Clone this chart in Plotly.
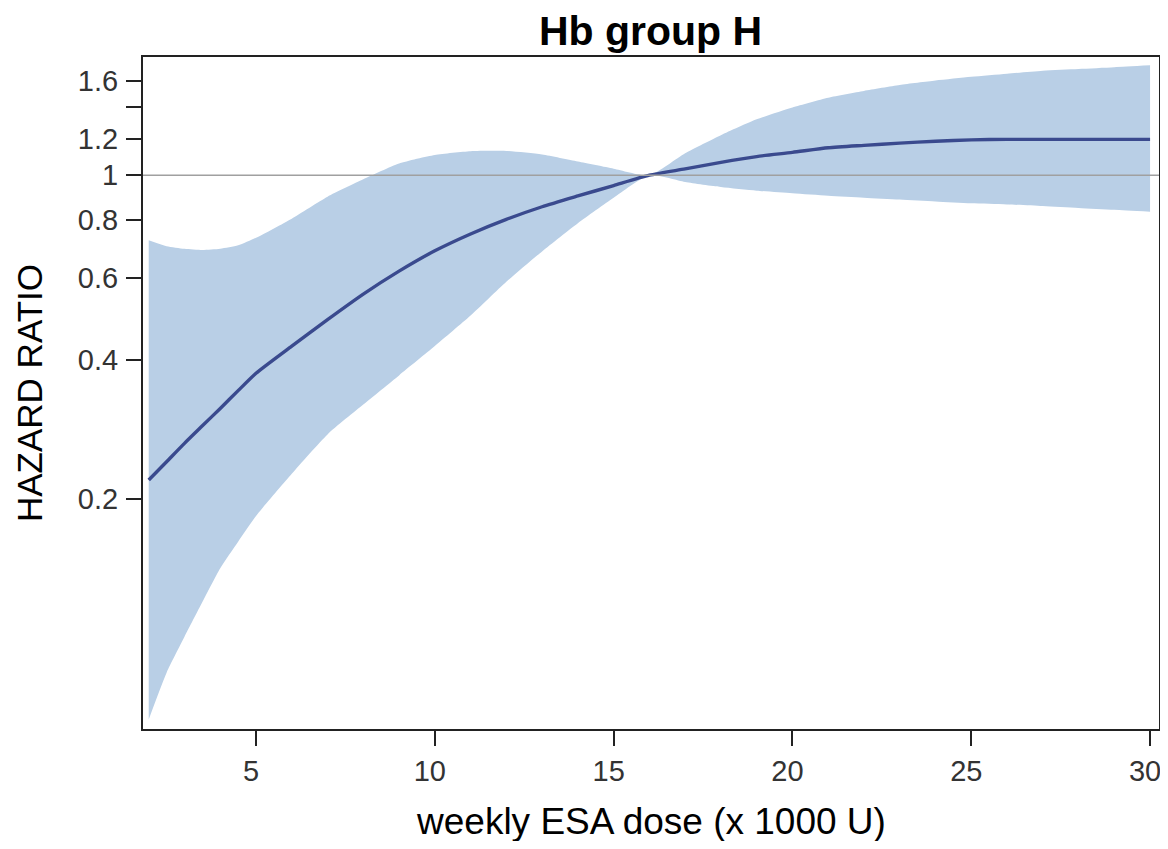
import plotly.graph_objects as go

# Weekly ESA dose (x 1000 U)
dose = [2, 2.5, 3, 3.5, 4, 4.5, 5, 6, 7, 8, 9, 10, 11, 12, 13, 14, 15, 16,
        17, 18, 19, 20, 21, 22, 23, 24, 25, 26, 27, 28, 29, 30]

# Hazard ratio estimate
hr = [0.220, 0.241, 0.264, 0.288, 0.314, 0.343, 0.374, 0.428, 0.488, 0.554,
      0.621, 0.687, 0.747, 0.803, 0.855, 0.902, 0.950, 1.000,
      1.032, 1.066, 1.097, 1.120, 1.146, 1.160, 1.173, 1.184, 1.192, 1.195,
      1.195, 1.195, 1.195, 1.195]

# Upper confidence limit
upper = [0.724, 0.703, 0.694, 0.690, 0.694, 0.706, 0.733, 0.806, 0.899, 0.980,
         1.060, 1.106, 1.127, 1.128, 1.108, 1.070, 1.033, 1.000,
         1.115, 1.220, 1.320, 1.400, 1.470, 1.520, 1.565, 1.600, 1.630, 1.655,
         1.680, 1.695, 1.710, 1.726]

# Lower confidence limit
lower = [0.067, 0.0845, 0.101, 0.120, 0.142, 0.162, 0.184, 0.227, 0.276, 0.320,
         0.370, 0.428, 0.498, 0.589, 0.685, 0.788, 0.894, 1.000,
         0.967, 0.943, 0.926, 0.914, 0.903, 0.894, 0.886, 0.878, 0.870, 0.865,
         0.858, 0.850, 0.842, 0.834]

y_tickvals = [0.2, 0.4, 0.6, 0.8, 1, 1.2, 1.4, 1.6]
y_ticktext = ["0.2", "0.4", "0.6", "0.8", "1", "1.2", "", "1.6"]
x_tickvals = [5, 10, 15, 20, 25, 30]

band_color = "#B9CFE6"
line_color = "#3A4A8E"

fig = go.Figure()
fig.add_trace(go.Scatter(x=dose, y=lower, mode="lines",
                         line=dict(width=0, color=band_color, shape="spline", smoothing=0.6),
                         showlegend=False, hoverinfo="skip"))
fig.add_trace(go.Scatter(x=dose, y=upper, mode="lines",
                         line=dict(width=0, color=band_color, shape="spline", smoothing=0.6),
                         fill="tonexty", fillcolor=band_color, showlegend=False, hoverinfo="skip"))
fig.add_hline(y=1, line=dict(color="#A0A0A0", width=1.5), layer="above")
fig.add_trace(go.Scatter(x=dose, y=hr, mode="lines",
                         line=dict(width=3.4, color=line_color, shape="spline", smoothing=0.6),
                         showlegend=False))

font_family = "Liberation Sans, Arial, sans-serif"

# the page body adds an 8px margin, so the figure is sized to fit inside the body
fig.update_layout(
    width=1152, height=833,
    margin=dict(l=135, r=1, t=49, b=112),
    paper_bgcolor="white", plot_bgcolor="white",
    font=dict(family=font_family, color="#000000"),
    title=dict(text="<b>Hb group H</b>", x=0.5577, xanchor="center", y=0.9724, yanchor="middle",
               font=dict(size=41, family=font_family, color="#000000")),
    xaxis=dict(
        range=[1.84, 30.25], tickvals=x_tickvals, ticks="outside", ticklen=15, tickwidth=2,
        tickcolor="#222222", showgrid=False, zeroline=False, showline=True, linewidth=2,
        linecolor="#222222", mirror=True, automargin=False, ticklabeloverflow="allow",
        ticklabelshift=-5,
        tickfont=dict(size=29, color="#333333"),
    ),
    yaxis=dict(
        type="log", range=[-1.1946, 0.255], tickvals=y_tickvals, ticktext=y_ticktext,
        ticks="outside", ticklen=15, tickwidth=2, tickcolor="#222222", showgrid=False,
        zeroline=False, showline=True, linewidth=2, linecolor="#222222", mirror=True,
        automargin=False, ticklabelstandoff=2, ticklabeloverflow="allow",
        tickfont=dict(size=29, color="#333333"),
    ),
    annotations=[
        dict(text="weekly ESA dose (x 1000 U)", xref="paper", yref="paper",
             x=0.5, y=-0.1372, xanchor="center", yanchor="middle", showarrow=False,
             font=dict(size=37, color="#000000", family=font_family)),
        dict(text="HAZARD RATIO", xref="paper", yref="paper", textangle=-90,
             x=-0.1122, y=0.5, xanchor="center", yanchor="middle", showarrow=False,
             font=dict(size=35, color="#000000", family=font_family)),
    ],
)

fig.write_html("out.html")
